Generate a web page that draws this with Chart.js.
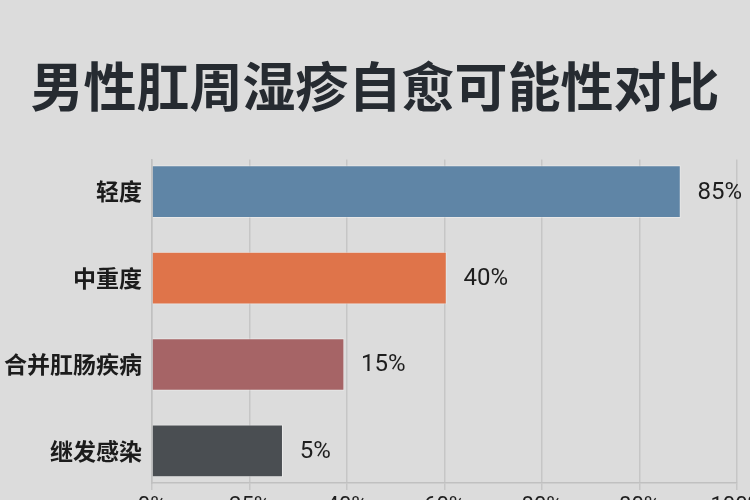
<!DOCTYPE html>
<html>
<head>
<meta charset="utf-8">
<script src="https://cdn.jsdelivr.net/npm/chart.js@4/dist/chart.umd.min.js"></script>
<style>
  html, body { margin: 0; padding: 0; background: #dcdcdc; }
  #wrap { width: 750px; height: 500px; }
</style>
</head>
<body>
<div id="wrap"><canvas id="c" width="750" height="500"></canvas></div>
<script>
// ---- data ----
const title = '男性肛周湿疹自愈可能性对比';
const categories = ['轻度', '中重度', '合并肛肠疾病', '继发感染'];
const percentValues = [85, 40, 15, 5];            // labels printed next to bars
const barLengthsOnAxis = [5.42, 3.02, 1.97, 1.34]; // bar ends read against the axis tick positions
const xTickLabels = ['0%', '25%', '40%', '60%', '80%', '80%', '100%'];
const barColors = ['#5f85a6', '#df744a', '#a66466', '#4a4e52'];

const points = categories.map((c, i) => ({ x: barLengthsOnAxis[i], y: i }));

const valueLabelPlugin = {
  id: 'valueLabels',
  afterDatasetsDraw(chart) {
    const ctx = chart.ctx;
    const meta = chart.getDatasetMeta(0);
    ctx.save();
    ctx.font = '24px Roboto, "Liberation Sans", sans-serif';
    ctx.fillStyle = '#1e1e1e';
    ctx.textAlign = 'left';
    ctx.textBaseline = 'middle';
    meta.data.forEach((bar, i) => {
      ctx.fillText(percentValues[i] + '%', bar.x + 17, bar.y + 1);
    });
    ctx.restore();
  }
};

new Chart(document.getElementById('c'), {
  type: 'bar',
  data: {
    datasets: [{
      data: points,
      backgroundColor: barColors,
      borderColor: 'rgba(255,255,255,0.35)',
      borderWidth: 1,
      barThickness: 52
    }]
  },
  options: {
    responsive: false,
    animation: false,
    indexAxis: 'y',
    layout: { padding: 0 },
    plugins: {
      legend: { display: false },
      tooltip: { enabled: false },
      title: {
        display: true,
        text: title,
        color: '#262b31',
        font: { family: '"Noto Sans CJK SC", sans-serif', size: 53, weight: 'bold', lineHeight: 1.2 },
        padding: { top: 55, bottom: 41 }
      }
    },
    scales: {
      x: {
        type: 'linear',
        min: 0,
        max: 6,
        offset: false,
        afterBuildTicks(scale) {
          scale.ticks = xTickLabels.map((_, i) => ({ value: i }));
        },
        afterFit(scale) {
          scale.paddingLeft = 0;
          scale.paddingRight = 13;
          scale.paddingTop = 0;
          scale.paddingBottom = 0;
          scale.height = 17;
        },
        grid: { color: '#c6c6c6', lineWidth: 1.5, tickLength: 7, drawTicks: true, offset: false },
        border: { color: '#c0c0c0', width: 1.5 },
        ticks: {
          padding: 3,
          color: '#1e1e1e',
          font: { family: 'Roboto, "Liberation Sans", sans-serif', size: 22 },
          maxRotation: 0,
          autoSkip: false,
          callback: (v) => xTickLabels[Math.round(v)] ?? ''
        }
      },
      y: {
        type: 'linear',
        reverse: true,
        min: -0.371,
        max: 3.372,
        offset: false,
        afterBuildTicks(scale) {
          scale.ticks = categories.map((_, i) => ({ value: i }));
        },
        afterFit(scale) {
          scale.width = 152;
          scale.paddingTop = 0;
          scale.paddingBottom = 0;
          scale.paddingLeft = 0;
          scale.paddingRight = 0;
        },
        grid: { display: false, drawTicks: false, offset: false },
        border: { color: '#c0c0c0', width: 1.5 },
        ticks: {
          padding: 10,
          color: '#1c1c1c',
          font: { family: '"Noto Sans CJK SC", sans-serif', size: 23, weight: 'bold' },
          autoSkip: false,
          callback: (v) => categories[Math.round(v)] ?? ''
        }
      }
    }
  },
  plugins: [valueLabelPlugin]
});
</script>
</body>
</html>
